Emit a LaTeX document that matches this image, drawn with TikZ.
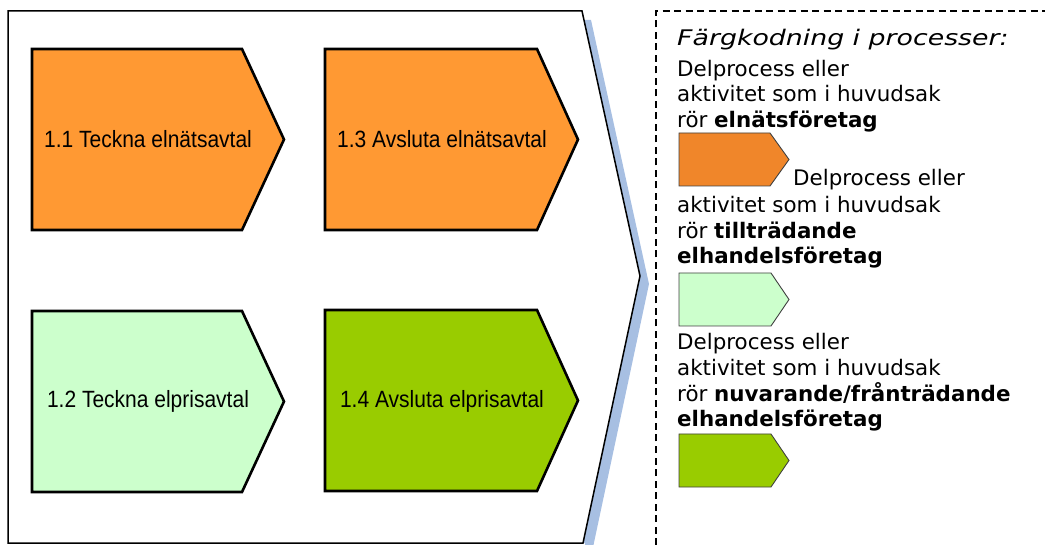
\documentclass[tikz,border=0pt]{standalone}
\usepackage{fontspec}
\newfontfamily\arialf{Liberation Sans}
\newfontfamily\verd{DejaVu Sans}
\definecolor{boxorange}{HTML}{FF9933}
\definecolor{legorange}{HTML}{F0862A}
\definecolor{palegreen}{HTML}{CCFFCC}
\definecolor{limegreen}{HTML}{99CC00}
\definecolor{shadowblue}{HTML}{A7BFE2}
\begin{document}
\begin{tikzpicture}[x=1pt,y=-1pt,
  proc/.style={draw=black, line width=2.6pt, line join=miter},
  legchev/.style={draw=black!75, line width=0.9pt},
  boxtext/.style={font=\arialf\fontsize{21pt}{25pt}\selectfont, inner sep=0pt, anchor=base},
  legtext/.style={font=\verd\fontsize{21.4pt}{26pt}\selectfont, anchor=base west, inner sep=0pt},
  legdash/.style={line width=1.3pt, dash pattern=on 7pt off 4.5pt}
]
\useasboundingbox (0,0) rectangle (1045,545);
% big chevron with shadow
\fill[shadowblue] (17,20) -- (591,20) -- (649,284) -- (592,552) -- (585,552) -- (585,543) -- (17,543) -- cycle;
\draw[line width=1.5pt, fill=white] (8,11) -- (582,11) -- (640,276) -- (583,543) -- (8,543) -- cycle;
% process boxes
\draw[proc, fill=boxorange] (32,49) -- (242,49) -- (284,139.5) -- (242,230) -- (32,230) -- cycle;
\draw[proc, fill=boxorange] (325,49) -- (537,49) -- (578,139.5) -- (537,230) -- (325,230) -- cycle;
\draw[proc, fill=palegreen] (32,311) -- (242,311) -- (284,401.5) -- (242,492) -- (32,492) -- cycle;
\draw[proc, fill=limegreen] (325,310) -- (537,310) -- (578,400.5) -- (537,491) -- (325,491) -- cycle;
\node[boxtext] (p11) at (148,148) {\scalebox{1}[1.12]{1.1 Teckna elnätsavtal}};
\node[boxtext] (p13) at (442,148) {\scalebox{1}[1.12]{1.3 Avsluta elnätsavtal}};
\node[boxtext] (p12) at (148,408) {\scalebox{1}[1.12]{1.2 Teckna elprisavtal}};
\node[boxtext] (p14) at (442,408) {\scalebox{1}[1.12]{1.4 Avsluta elprisavtal}};
% legend frame
\draw[legdash] (656,545) -- (656,11) -- (1045,11);
% legend texts
\node[legtext, font=\verd\fontsize{21.5pt}{26pt}\selectfont] (ltitle) at (677,46) {\scalebox{1.245}[1]{\itshape Färgkodning i processer:}};
\node[legtext] (la1) at (677,77) {Delprocess eller};
\node[legtext] (la2) at (677,102) {aktivitet som i huvudsak};
\node[legtext] (la3) at (677,128) {rör \textbf{elnätsföretag}};
\draw[legchev, fill=legorange] (679,133) -- (770,133) -- (789,159.5) -- (770,186) -- (679,186) -- cycle;
\node[legtext] (lb1) at (793,186) {Delprocess eller};
\node[legtext] (lb2) at (677,213) {aktivitet som i huvudsak};
\node[legtext] (lb3) at (677,239) {rör \textbf{tillträdande}};
\node[legtext] (lb4) at (677,264) {\textbf{elhandelsföretag}};
\draw[legchev, fill=palegreen] (679,273) -- (771,273) -- (789,299.5) -- (771,326) -- (679,326) -- cycle;
\node[legtext] (lc1) at (677,350) {Delprocess eller};
\node[legtext] (lc2) at (677,376) {aktivitet som i huvudsak};
\node[legtext] (lc3) at (677,402) {rör \textbf{nuvarande/frånträdande}};
\node[legtext] (lc4) at (677,427) {\textbf{elhandelsföretag}};
\draw[legchev, fill=limegreen] (679,434) -- (771,434) -- (789,460.5) -- (771,487) -- (679,487) -- cycle;
\end{tikzpicture}
\end{document}
